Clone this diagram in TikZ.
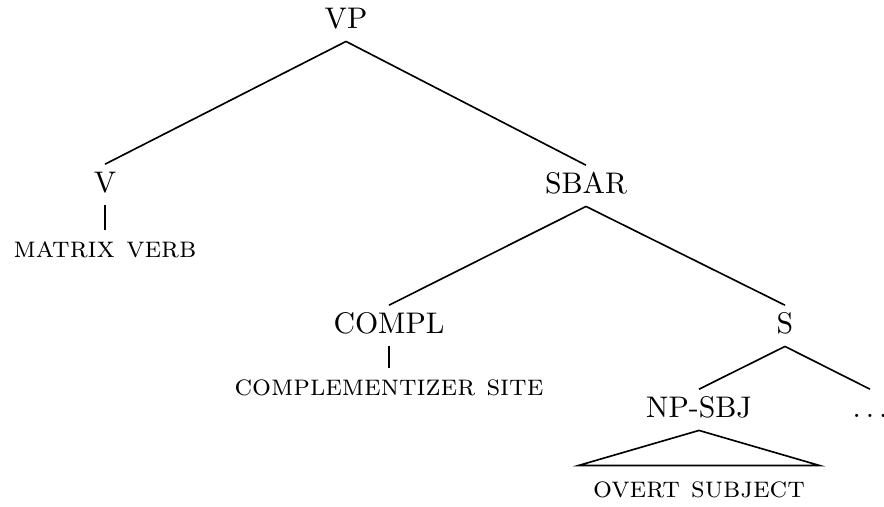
\documentclass[tikz,border=0pt]{standalone}
\usetikzlibrary{calc}
\begin{document}
\begin{tikzpicture}[x=0.3355pt,y=-0.3355pt,
  cat/.style={anchor=base,inner xsep=0pt,inner ysep=2.3pt,text height=6.83pt,text depth=2pt,font=\normalsize},
  leaf/.style={anchor=base,inner xsep=0pt,inner ysep=3pt,text height=5.7pt,text depth=0pt,font=\scshape},
  edge/.style={line width=0.55pt}]
\useasboundingbox (0,0) rectangle (884,506);
\node[cat] (VP) at (346,28) {VP};
\node[cat] (V) at (105,192) {V};
\node[leaf] (MV) at (105,257) {matrix verb};
\node[cat] (SBAR) at (586,193) {SBAR};
\node[cat] (COMPL) at (389,333) {COMPL};
\node[leaf] (CS) at (389,395) {complementizer site};
\node[cat] (S) at (785,333) {S};
\node[cat] (NP) at (699,417) {NP-SBJ};
\node[cat] (DOTS) at (870,417) {$\ldots$};
\node[leaf] (OS) at (699,497) {overt subject};
\draw[edge] (VP.south) -- (V.north);
\draw[edge] (VP.south) -- (SBAR.north);
\draw[edge] (V.south) -- (MV.north);
\draw[edge] (SBAR.south) -- (COMPL.north);
\draw[edge] (SBAR.south) -- (S.north);
\draw[edge] (COMPL.south) -- (CS.north);
\draw[edge] (S.south) -- (NP.north);
\draw[edge] (S.south) -- (DOTS.north);
\coordinate (TL) at ($(OS.north)+(-120.5,-5)$);
\coordinate (TR) at ($(OS.north)+(120.5,-5)$);
\draw[edge] (TL) -- (NP.south) -- (TR) -- cycle;
\end{tikzpicture}
\end{document}
